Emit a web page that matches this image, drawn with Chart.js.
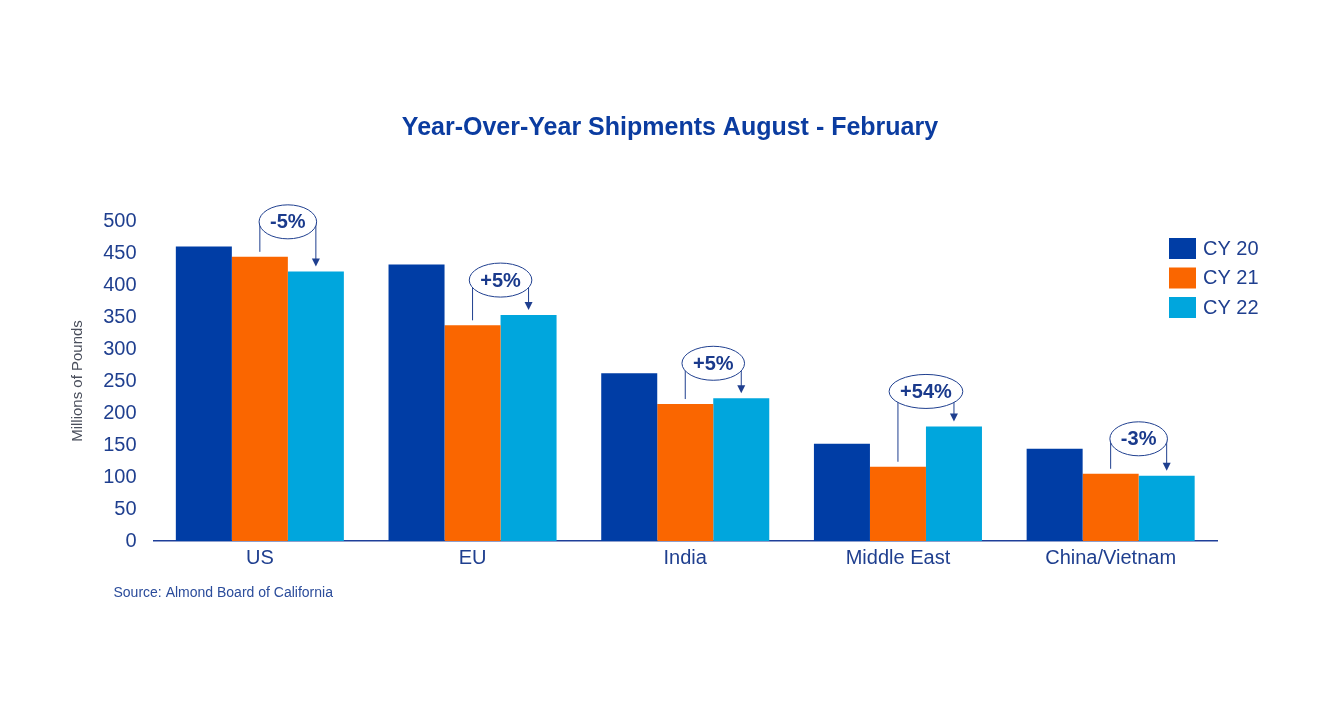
<!DOCTYPE html>
<html>
<head>
<meta charset="utf-8">
<title>Year-Over-Year Shipments</title>
<script src="https://cdn.jsdelivr.net/npm/chart.js@4.4.1/dist/chart.umd.min.js"></script>
<style>
  html, body { margin: 0; padding: 0; background: #fff; }
  #wrap { position: relative; width: 1340px; height: 705px; }
</style>
</head>
<body>
<div id="wrap"><canvas id="chart"></canvas></div>
<script>
// values (millions of pounds)
const categories = ['US', 'EU', 'India', 'Middle East', 'China/Vietnam'];
const seriesNames = ['CY 20', 'CY 21', 'CY 22'];
const cy20 = [460, 432, 262, 152, 144];
const cy21 = [444, 337, 214, 116, 105];
const cy22 = [421, 353, 223, 179, 102];
const changeLabels = ['-5%', '+5%', '+5%', '+54%', '-3%'];
const yTicks = [0, 50, 100, 150, 200, 250, 300, 350, 400, 450, 500];

const colors = ['#003DA5', '#FA6600', '#00A6DD'];
const navy = '#1F3F8F';
const FONT = "'Liberation Sans', Arial, sans-serif";

// little bracket + ellipse + arrow between CY21 and CY22 bars
const calloutPlugin = {
  id: 'callouts',
  afterDatasetsDraw(chart) {
    const ctx = chart.ctx;
    const m21 = chart.getDatasetMeta(1).data;
    const m22 = chart.getDatasetMeta(2).data;
    ctx.save();
    ctx.font = 'bold 20px ' + FONT;
    changeLabels.forEach((txt, i) => {
      const a = m21[i], b = m22[i];
      const cy = Math.min(a.y, b.y) - 35;
      const cx = (a.x + b.x) / 2;
      const tw = ctx.measureText(txt).width;
      const rx = Math.max((b.x - a.x) / 2, tw / 2 + 11);
      const ry = 17;

      ctx.strokeStyle = navy;
      ctx.lineWidth = 1;
      // left leg
      ctx.beginPath();
      ctx.moveTo(a.x, a.y - 5);
      ctx.lineTo(a.x, cy);
      ctx.lineTo(cx, cy);
      ctx.stroke();
      // right leg with arrow
      const tip = b.y - 5;
      ctx.beginPath();
      ctx.moveTo(cx, cy);
      ctx.lineTo(b.x, cy);
      ctx.lineTo(b.x, tip - 7);
      ctx.stroke();
      ctx.fillStyle = navy;
      ctx.beginPath();
      ctx.moveTo(b.x - 4, tip - 8);
      ctx.lineTo(b.x + 4, tip - 8);
      ctx.lineTo(b.x, tip);
      ctx.closePath();
      ctx.fill();

      // ellipse
      ctx.beginPath();
      ctx.ellipse(cx, cy, rx, ry, 0, 0, Math.PI * 2);
      ctx.fillStyle = '#fff';
      ctx.fill();
      ctx.stroke();

      ctx.fillStyle = '#1A3A8C';
      ctx.textAlign = 'center';
      ctx.textBaseline = 'middle';
      ctx.fillText(txt, cx, cy + 1);
    });
    ctx.restore();
  }
};

// title centred on the page, legend inside the plot area top-right, source line
const extrasPlugin = {
  id: 'extras',
  afterDraw(chart) {
    const ctx = chart.ctx;
    const area = chart.chartArea;
    ctx.save();
    ctx.textBaseline = 'middle';
    ctx.textAlign = 'center';
    ctx.font = 'bold 25px ' + FONT;
    ctx.fillStyle = '#0B3CA0';
    ctx.fillText('Year-Over-Year Shipments August - February', chart.width / 2, 128);

    ctx.font = '20px ' + FONT;
    ctx.textAlign = 'left';
    chart.data.datasets.forEach((ds, i) => {
      const x = area.right - 48;
      const y = area.top + 17 + i * 29.5;
      ctx.fillStyle = ds.backgroundColor;
      ctx.fillRect(x, y, 27, 21);
      ctx.fillStyle = navy;
      ctx.fillText(ds.label, x + 34, y + 11);
    });
    ctx.font = '14px ' + FONT;
    ctx.fillStyle = '#2B4C9B';
    ctx.fillText('Source: Almond Board of California', area.left - 40, area.bottom + 52);
    ctx.restore();
  }
};

const ctx = document.getElementById('chart').getContext('2d');
new Chart(ctx, {
  type: 'bar',
  data: {
    labels: categories,
    datasets: [cy20, cy21, cy22].map((vals, i) => ({
      label: seriesNames[i],
      data: vals,
      backgroundColor: colors[i],
      borderWidth: 0,
      barPercentage: 1,
      categoryPercentage: 0.79
    }))
  },
  options: {
    responsive: true,
    maintainAspectRatio: false,
    animation: false,
    layout: { padding: { left: 0, right: 123, top: 221, bottom: 130 } },
    plugins: {
      legend: { display: false },
      tooltip: { enabled: false },
      title: { display: false }
    },
    scales: {
      x: {
        grid: { display: false, drawTicks: false },
        border: { display: true, color: '#1F3F99', width: 1.5 },
        ticks: { color: navy, font: { family: FONT, size: 20 }, padding: 5 }
      },
      y: {
        min: 0,
        max: 500,
        afterBuildTicks: (scale) => { scale.ticks = yTicks.map(v => ({ value: v })); },
        afterFit: (scale) => { scale.width = 153.5; },
        grid: { display: false, drawTicks: false },
        border: { display: false },
        ticks: { color: navy, font: { family: FONT, size: 20 }, padding: 17 },
        title: {
          display: true,
          text: 'Millions of Pounds',
          color: '#4A4F5C',
          font: { family: FONT, size: 15 },
          padding: { top: 69, bottom: 0 }
        }
      }
    }
  },
  plugins: [calloutPlugin, extrasPlugin]
});
</script>
</body>
</html>
